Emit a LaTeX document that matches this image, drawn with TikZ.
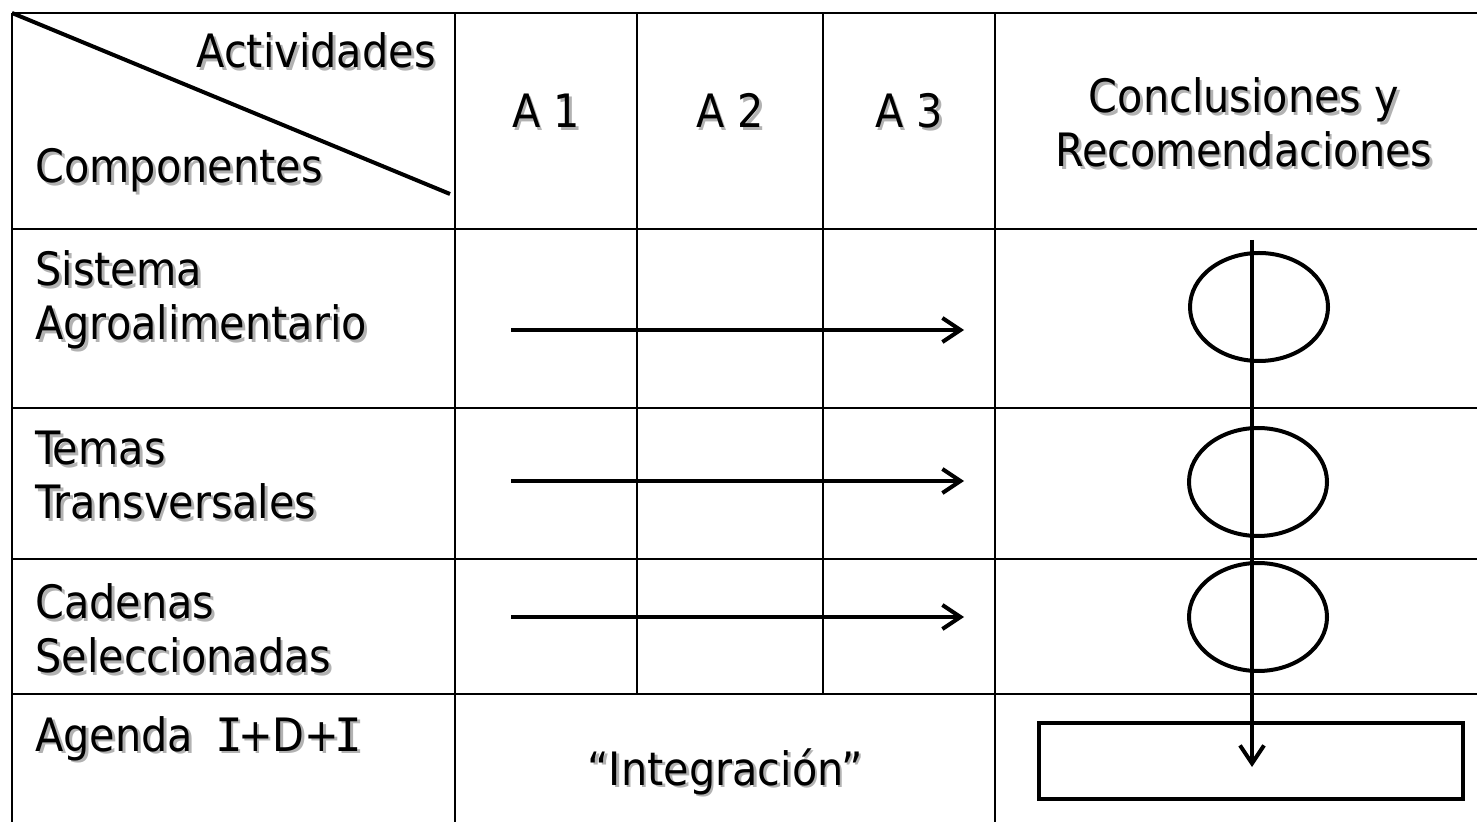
\documentclass[tikz,border=0pt]{standalone}
\usepackage{fontspec}
\setmainfont{DejaVu Sans Condensed}
\newfontfamily\serifI{DejaVu Sans Mono}
\usetikzlibrary{arrows.meta,shapes.geometric}
\newcommand\shd[1]{\rlap{\kern1.3pt\raisebox{-1.3pt}{\textcolor{black!30}{#1}}}#1}
\newcommand\sI{\kern-0.1em{\serifI I}\kern-0.1em}
\begin{document}
\begin{tikzpicture}[x=0.5pt,y=-0.5pt,
  grid/.style={line width=1pt},
  heavy/.style={line width=2pt},
  lbl/.style={font=\fontsize{23}{27}\selectfont, inner sep=0pt},
  arr/.style={heavy,-{Straight Barb[length=9pt,width=12pt,line width=2pt]}},
  oval/.style={ellipse, draw, heavy, minimum width=69pt, minimum height=54pt, inner sep=0pt},
  endbox/.style={draw, heavy, minimum width=212pt, minimum height=38pt, inner sep=0pt}]
\useasboundingbox (0,0) rectangle (1477,822);
\clip (0,0) rectangle (1477,822);
% grid
\draw[grid] (12,13) -- (1490,13);
\draw[grid] (12,13) -- (12,840);
\foreach \yy in {229,408,559,694} \draw[grid] (12,\yy) -- (1490,\yy);
\draw[grid] (455,13) -- (455,840);
\draw[grid] (637,13) -- (637,694);
\draw[grid] (823,13) -- (823,694);
\draw[grid] (995,13) -- (995,840);
% diagonal
\coordinate (d1) at (12,13);
\coordinate (d2) at (450,194);
\draw[heavy] (d1) -- (d2);
% header texts
\node[lbl, anchor=base east] (act) at (436,68) {\shd{Actividades}};
\node[lbl, anchor=base west] (comp) at (35,183) {\shd{Componentes}};
\node[lbl, anchor=base] (a1) at (546,128) {\shd{A 1}};
\node[lbl, anchor=base] (a2) at (730,128) {\shd{A 2}};
\node[lbl, anchor=base] (a3) at (909,128) {\shd{A 3}};
\node[lbl, anchor=base] (conc1) at (1244,113) {\shd{Conclusiones y}};
\node[lbl, anchor=base] (conc2) at (1244,167) {\shd{Recomendaciones}};
% row labels
\node[lbl, anchor=base west] (r1a) at (35,286) {\shd{Sistema}};
\node[lbl, anchor=base west] (r1b) at (35,340) {\shd{Agroalimentario}};
\node[lbl, anchor=base west] (r2a) at (35,465) {\shd{Temas}};
\node[lbl, anchor=base west] (r2b) at (35,519) {\shd{Transversales}};
\node[lbl, anchor=base west] (r3a) at (35,619) {\shd{Cadenas}};
\node[lbl, anchor=base west] (r3b) at (35,673) {\shd{Seleccionadas}};
\node[lbl, anchor=base west] (r4) at (35,751) {\shd{Agenda\ \ \sI+D+\sI}};
\node[lbl, anchor=base] (integ) at (725,785) {\shd{“Integración”}};
% horizontal arrows
\coordinate (h1s) at (511,330); \coordinate (h1e) at (964,330);
\coordinate (h2s) at (511,481); \coordinate (h2e) at (964,481);
\coordinate (h3s) at (511,617); \coordinate (h3e) at (964,617);
\draw[arr] (h1s) -- (h1e);
\draw[arr] (h2s) -- (h2e);
\draw[arr] (h3s) -- (h3e);
% ovals and box
\node[oval] (o1) at (1259,307) {};
\node[oval] (o2) at (1258,482) {};
\node[oval] (o3) at (1258,617) {};
\node[endbox] (bx) at (1251,761) {};
% vertical arrow
\coordinate (vs) at (1252,240);
\coordinate (ve) at (1252,767);
\draw[arr] (vs) -- (ve);
\end{tikzpicture}
\end{document}
